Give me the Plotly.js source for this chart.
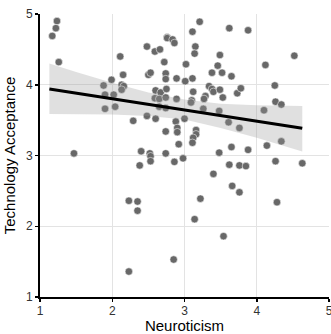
<!DOCTYPE html>
<html>
<head>
<meta charset="utf-8">
<script src="https://cdn.plot.ly/plotly-3.0.1.min.js"></script>
<style>html,body{margin:0;padding:0;background:#fff;}#chart{width:331px;height:334px;}</style>
</head>
<body>
<div id="chart"></div>
<script>
// Observations: Neuroticism (x) vs Technology Acceptance (y)
const neuroticism = [
  1.235, 1.22, 1.17, 1.26, 1.47, 2.11, 1.99, 2.15, 1.88, 2.13,
  2.16, 2.13, 1.90, 2.02, 2.04, 1.90, 2.29, 2.48, 2.60, 2.74,
  2.40, 2.52, 2.53, 2.74, 2.38, 2.53, 2.48, 2.59, 2.66, 2.76,
  2.72, 2.50, 2.53, 2.74, 2.74, 2.60, 2.67, 2.75, 2.59, 2.65,
  2.74, 2.65, 2.74, 3.21, 3.62, 3.11, 2.76, 2.835, 2.86, 3.15,
  3.14, 3.49, 3.02, 3.46, 2.89, 3.11, 3.01, 3.38, 3.52, 3.65,
  3.34, 3.38, 3.40, 3.49, 3.29, 3.27, 3.53, 3.73, 3.12, 2.89,
  3.10, 3.09, 3.26, 3.48, 3.88, 4.52, 4.12, 4.25, 3.78, 4.26,
  4.34, 4.10, 3.61, 3.76, 4.34, 2.88, 3.00, 2.90, 2.90, 3.16,
  3.16, 3.12, 3.11, 2.92, 3.65, 4.14, 3.88, 3.48, 2.86, 2.98,
  3.62, 3.76, 3.85, 4.26, 4.63, 3.40, 3.66, 3.76, 3.22, 4.28,
  3.14, 3.54, 2.85, 2.23, 2.35, 2.35, 2.23
];
const techAcceptance = [
  4.90, 4.80, 4.69, 4.32, 3.03, 4.40, 4.07, 4.14, 3.99, 4.00,
  3.98, 3.93, 3.86, 3.86, 3.69, 3.66, 3.49, 3.56, 3.52, 3.34,
  3.06, 3.03, 2.99, 3.03, 2.86, 2.92, 4.54, 4.47, 4.50, 4.67,
  4.32, 4.14, 4.17, 4.16, 4.08, 3.92, 3.89, 3.94, 3.81, 3.80,
  3.82, 3.69, 3.67, 4.89, 4.80, 4.75, 4.66, 4.64, 4.59, 4.54,
  4.44, 4.42, 4.29, 4.27, 4.09, 4.09, 4.05, 4.17, 4.17, 4.12,
  3.98, 3.94, 3.90, 3.93, 3.84, 3.80, 3.82, 3.88, 3.90, 3.80,
  3.78, 3.75, 3.66, 3.63, 4.77, 4.41, 4.28, 3.99, 3.95, 3.76,
  3.72, 3.64, 3.47, 3.39, 3.20, 3.48, 3.52, 3.39, 3.33, 3.36,
  3.30, 3.25, 3.18, 3.16, 3.12, 3.14, 3.08, 3.04, 2.91, 2.96,
  2.87, 2.86, 2.85, 2.92, 2.89, 2.74, 2.57, 2.48, 2.39, 2.34,
  2.10, 1.86, 1.53, 2.36, 2.35, 2.22, 1.36
];

// Linear fit and its confidence band
const fitX = [1.13, 4.63];
const fitY = [3.94, 3.385];
const bandX = [1.13, 1.5, 2.0, 2.5, 3.0, 3.5, 4.0, 4.63];
const bandUpper = [4.30, 4.18, 4.03, 3.89, 3.79, 3.73, 3.71, 3.70];
const bandLower = [3.585, 3.585, 3.58, 3.56, 3.51, 3.39, 3.25, 3.055];

// Axis ticks
const tickVals = [1, 2, 3, 4, 5];
const tickText = ['1', '2', '3', '4', '5'];

const points = {
  x: neuroticism, y: techAcceptance, type: 'scatter', mode: 'markers',
  marker: {size: 7.5, color: 'rgb(104,104,104)', line: {color: 'rgba(255,255,255,0.9)', width: 0.6}},
  hoverinfo: 'x+y', showlegend: false
};
const bandLow = {
  x: bandX, y: bandLower, type: 'scatter', mode: 'lines',
  line: {width: 0, color: 'rgba(0,0,0,0)'}, showlegend: false, hoverinfo: 'skip'
};
const bandHigh = {
  x: bandX, y: bandUpper, type: 'scatter', mode: 'lines', fill: 'tonexty',
  fillcolor: 'rgba(153,153,153,0.3)', line: {width: 0, color: 'rgba(0,0,0,0)'},
  showlegend: false, hoverinfo: 'skip'
};
const fitLine = {
  x: fitX, y: fitY, type: 'scatter', mode: 'lines',
  line: {color: '#000000', width: 3.2}, showlegend: false
};

const axisCommon = {
  range: [1, 5], tickvals: tickVals, ticktext: tickText,
  showline: true, linecolor: '#000', linewidth: 2,
  ticks: 'outside', ticklen: 3, tickcolor: '#000', tickwidth: 1.5,
  showgrid: true, gridcolor: '#e3e3e3', gridwidth: 1, zeroline: false,
  tickfont: {family: 'Liberation Sans, Arial, sans-serif', size: 12, color: '#333'},
  ticklabeloverflow: 'allow',
  fixedrange: true
};

const layout = {
  width: 331, height: 334,
  margin: {l: 40, r: 2, t: 14, b: 37},
  paper_bgcolor: '#fff', plot_bgcolor: '#fff',
  font: {family: 'Liberation Sans, Arial, sans-serif', color: '#000'},
  xaxis: Object.assign({}, axisCommon, {
    ticklabelstandoff: -1,
    title: {text: 'Neuroticism', font: {size: 15, color: '#000'}, standoff: 4}
  }),
  yaxis: Object.assign({}, axisCommon, {
    title: {text: 'Technology Acceptance', font: {size: 15, color: '#000'}, standoff: 7}
  }),
  showlegend: false
};

Plotly.newPlot('chart', [points, bandLow, bandHigh, fitLine], layout, {displayModeBar: false, staticPlot: true});
</script>
</body>
</html>
